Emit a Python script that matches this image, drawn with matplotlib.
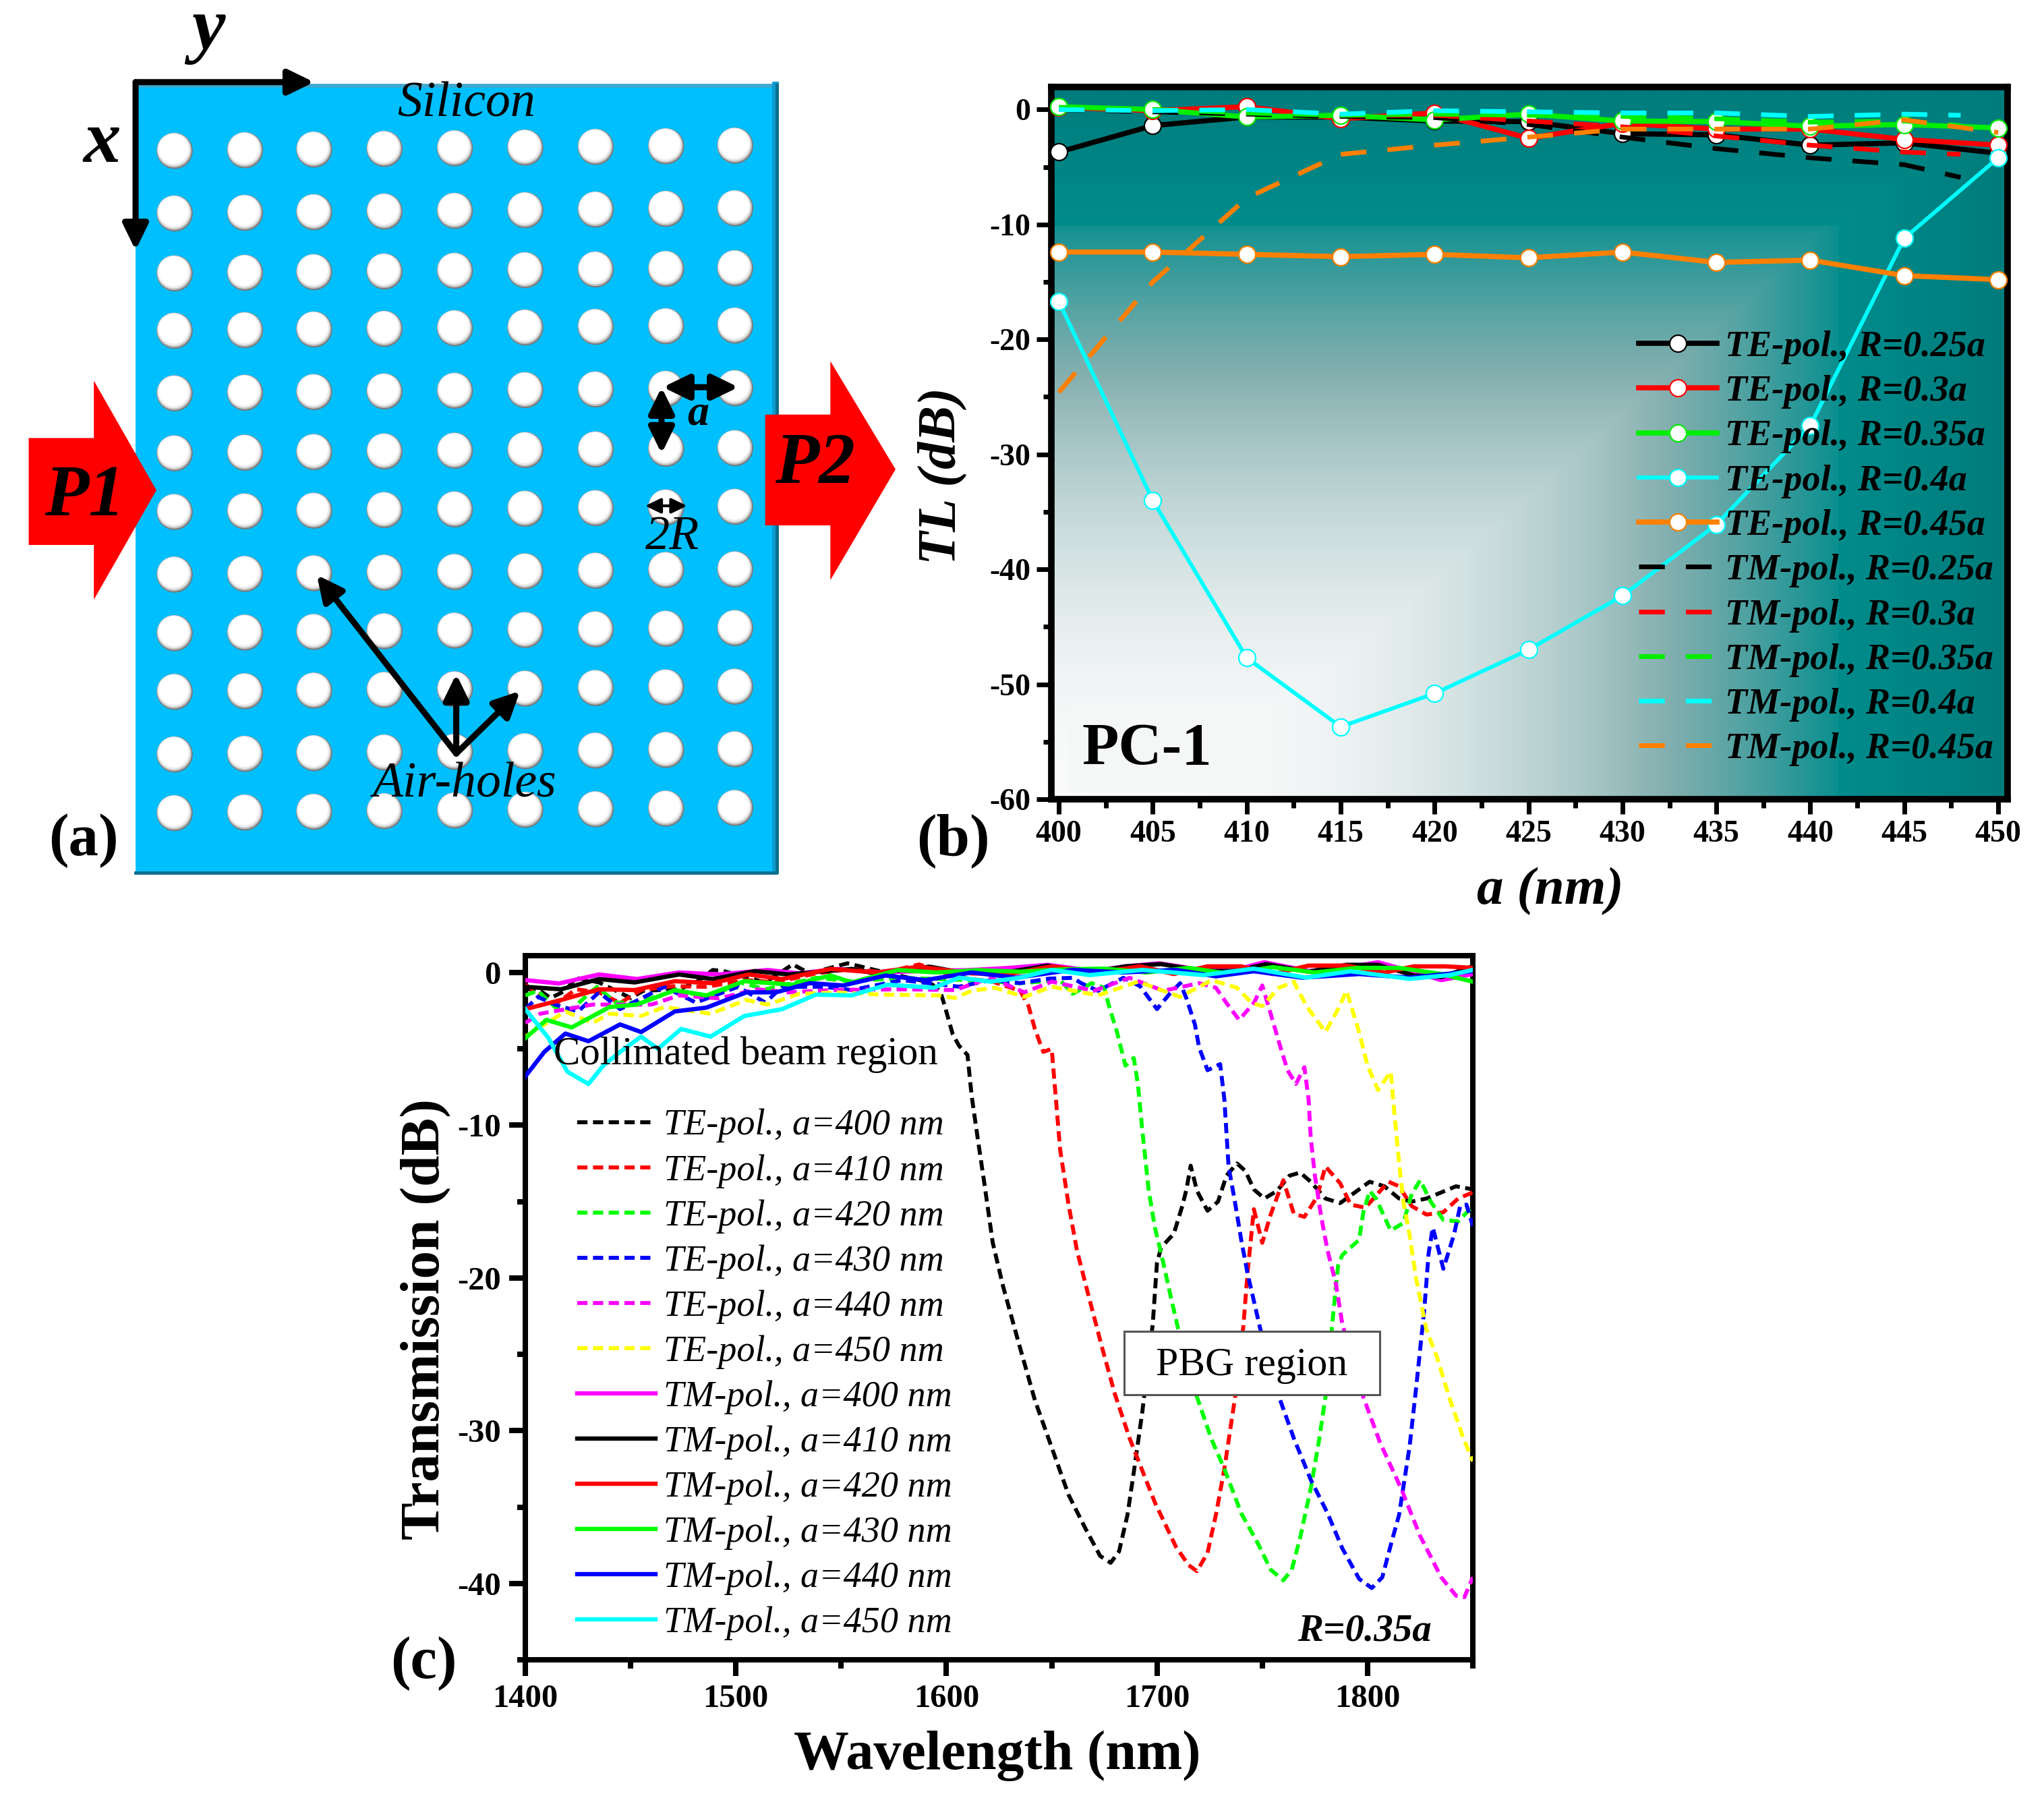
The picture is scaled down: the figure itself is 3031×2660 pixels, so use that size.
import numpy as np
import matplotlib
matplotlib.use("Agg")
import matplotlib.pyplot as plt
from matplotlib.colors import LinearSegmentedColormap
from matplotlib.font_manager import FontProperties
from matplotlib.patches import Polygon, Rectangle

W, H = 3031, 2660
S = 1.933
plt.rcParams['font.family'] = ['Liberation Serif', 'DejaVu Serif']

# ---------- panel (b) data ----------
a_nm = [400, 405, 410, 415, 420, 425, 430, 435, 440, 445, 450]
a_tm = [400, 405, 410, 415, 420, 425, 430, 435, 440, 445, 448]
te_025 = [-3.7, -1.4, -0.65, -0.65, -1.0, -1.05, -2.1, -2.2, -3.1, -2.9, -3.8]
te_030 = [0.2, -0.1, 0.25, -0.8, -0.3, -2.5, -1.2, -1.7, -1.7, -2.6, -3.1]
te_035 = [0.25, 0.0, -0.65, -0.5, -0.9, -0.4, -1.0, -1.05, -1.45, -1.3, -1.6]
te_040 = [-16.7, -34.0, -47.7, -53.7, -50.8, -47.0, -42.3, -36.1, -27.5, -11.2, -4.2]
te_045 = [-12.4, -12.4, -12.6, -12.8, -12.6, -12.9, -12.4, -13.3, -13.1, -14.45, -14.8]
tm_025 = [0.0, -0.2, -0.4, -0.6, -0.7, -1.3, -2.4, -3.4, -4.2, -4.8, -5.9]
tm_030 = [0.0, 0.0, -0.1, -0.5, -0.5, -1.0, -1.5, -2.3, -3.1, -3.7, -3.9]
tm_035 = [0.2, 0.0, -0.3, -0.5, -0.4, -0.5, -0.6, -0.8, -1.1, -1.0, -1.4]
tm_040 = [0.0, -0.1, 0.0, -0.4, -0.1, -0.2, -0.3, -0.3, -0.6, -0.4, -0.5]
tm_045 = [-24.6, -15.0, -7.7, -3.9, -3.1, -2.4, -1.7, -1.7, -1.7, -0.9, -2.0]
b_labels_te = ['TE-pol., R=0.25a', 'TE-pol., R=0.3a', 'TE-pol., R=0.35a', 'TE-pol., R=0.4a', 'TE-pol., R=0.45a']
b_labels_tm = ['TM-pol., R=0.25a', 'TM-pol., R=0.3a', 'TM-pol., R=0.35a', 'TM-pol., R=0.4a', 'TM-pol., R=0.45a']
b_colors = ['#000000', '#ff0000', '#00ee00', '#00ffff', '#ff8000']

# ---------- panel (c) data ----------
wl_te400 = [1400,1406,1412,1419,1424,1435,1450,1456,1473,1481,1489,1494,1514,1527,1535,1553,1571,1592,1597,1599,1603,1606,1610,1612,1615,1618,1622,1627,1634,1642,1650,1658,1666,1673,1678,1682,1686,1689,1693,1698,1700,1702,1708,1712,1714,1716,1719,1724,1729,1733,1738,1742,1746,1751,1757,1763,1768,1773,1780,1787,1794,1801,1808,1815,1821,1828,1835,1842,1850]
db_te400 = [-1.1,-1.1,-1.67,-1.2,-0.35,-0.65,-1.67,-1.2,-1.1,-0.65,0.16,0.1,-0.65,0.53,-0.06,0.6,0.0,-0.65,-1.2,-2.1,-4.05,-4.8,-5.4,-8.1,-11.0,-13.8,-17.7,-20.6,-24.1,-28.0,-31.1,-34.2,-36.4,-38.2,-38.65,-37.9,-35.5,-32.7,-28.8,-23.0,-19.0,-18.0,-17.1,-15.3,-14.2,-12.65,-14.3,-15.6,-15.0,-13.3,-12.5,-13.0,-14.2,-14.8,-14.3,-13.3,-13.1,-13.7,-14.8,-15.1,-14.4,-13.7,-14.0,-14.8,-15.0,-14.8,-14.4,-14.0,-14.2]
wl_te410 = [1400,1414,1424,1435,1445,1455,1470,1486,1505,1519,1538,1555,1571,1587,1605,1622,1635,1639,1642,1646,1650,1652,1654,1658,1662,1667,1674,1680,1687,1699,1709,1715,1719,1724,1728,1732,1737,1741,1743,1746,1750,1754,1760,1765,1770,1776,1780,1787,1792,1799,1806,1810,1815,1821,1828,1836,1843,1850]
db_te410 = [-0.8,-2.1,-1.1,-1.3,-2.0,-1.15,-0.9,-0.94,-0.5,-0.65,-0.06,0.23,0.0,0.53,-0.3,-0.6,-1.2,-2.2,-3.7,-5.2,-5.0,-8.3,-11.6,-15.2,-18.2,-20.9,-24.6,-27.6,-30.5,-34.7,-37.6,-38.8,-39.2,-38.0,-35.5,-32.5,-27.9,-23.2,-19.7,-15.5,-17.7,-15.85,-13.6,-15.8,-16.0,-14.7,-12.7,-13.8,-15.2,-15.4,-14.3,-13.7,-14.0,-15.3,-15.85,-15.7,-14.8,-14.4]
wl_te420 = [1400,1406,1414,1422,1434,1443,1453,1471,1488,1502,1514,1538,1555,1580,1610,1635,1654,1660,1669,1675,1677,1681,1685,1689,1691,1693,1696,1699,1702,1706,1710,1719,1726,1732,1740,1748,1754,1760,1764,1768,1773,1777,1780,1784,1786,1788,1796,1798,1801,1804,1811,1817,1821,1825,1830,1836,1843,1850]
db_te420 = [-1.5,-1.2,-2.26,-2.4,-0.94,-1.97,-1.97,-1.2,-1.6,-0.65,-1.1,-0.35,-0.57,-0.35,-0.5,-0.7,-0.5,-1.4,-0.7,-1.0,-2.1,-3.9,-6.1,-5.6,-7.4,-10.3,-14.2,-16.7,-18.4,-20.9,-23.3,-27.8,-30.6,-32.5,-35.4,-37.4,-39.1,-39.8,-39.1,-37.0,-33.8,-30.6,-27.8,-21.9,-19.2,-18.5,-17.5,-15.7,-14.3,-14.8,-16.9,-16.4,-14.5,-13.6,-15.0,-16.2,-16.3,-15.3]
wl_te430 = [1400,1406,1414,1425,1435,1445,1466,1481,1501,1514,1522,1542,1555,1579,1606,1621,1635,1649,1660,1664,1672,1684,1692,1700,1706,1711,1714,1718,1720,1724,1730,1732,1733,1734,1737,1740,1743,1749,1758,1765,1773,1781,1788,1796,1802,1807,1811,1815,1820,1823,1827,1829,1831,1836,1841,1844,1847,1850]
db_te430 = [-2.4,-1.6,-2.1,-2.55,-1.3,-2.4,-0.94,-1.97,-0.94,-1.97,-0.94,-0.94,-1.15,-0.5,-0.93,-0.5,-0.7,-0.4,-0.35,-0.7,-1.2,-0.35,-0.9,-2.4,-1.4,-0.7,-1.7,-3.4,-4.9,-6.4,-6.0,-8.3,-10.5,-12.7,-15.0,-17.5,-19.7,-23.3,-27.8,-30.5,-33.2,-35.4,-37.7,-39.7,-40.3,-39.6,-37.5,-35.5,-31.0,-27.3,-22.0,-18.4,-16.7,-19.4,-17.2,-15.3,-15.2,-16.6]
wl_te440 = [1400,1407,1432,1460,1473,1492,1510,1525,1546,1579,1604,1621,1637,1650,1670,1687,1703,1720,1728,1733,1739,1746,1750,1754,1758,1762,1766,1770,1772,1773,1775,1778,1781,1785,1788,1798,1806,1816,1825,1835,1842,1846,1850]
db_te440 = [-3.3,-2.7,-2.1,-2.1,-1.5,-1.7,-1.1,-1.3,-1.15,-1.1,-1.15,-0.35,-1.3,-0.6,-1.2,-0.35,-1.2,-0.7,-1.0,-2.0,-3.1,-2.0,-0.85,-2.7,-4.6,-6.4,-7.3,-6.2,-8.3,-10.8,-13.3,-16.0,-18.2,-20.4,-23.0,-27.8,-30.8,-33.8,-36.9,-39.6,-40.8,-40.9,-39.6]
wl_te450 = [1400,1419,1432,1440,1455,1466,1488,1505,1515,1530,1548,1569,1596,1604,1612,1623,1637,1650,1672,1691,1711,1726,1738,1745,1750,1758,1765,1771,1780,1786,1790,1796,1800,1805,1811,1813,1815,1817,1820,1823,1828,1833,1839,1845,1850]
db_te450 = [-4.2,-2.55,-3.3,-2.7,-2.85,-2.26,-2.7,-1.8,-2.1,-1.4,-1.3,-1.45,-1.5,-1.67,-1.2,-1.0,-1.6,-0.93,-1.5,-0.6,-1.6,-0.5,-1.0,-2.0,-2.2,-1.0,-0.6,-2.2,-3.9,-2.4,-1.2,-3.9,-6.1,-7.7,-6.5,-9.6,-12.5,-15.0,-17.2,-20.0,-23.4,-25.2,-27.9,-30.3,-32.0]

wl_tm400 = [1400,1416,1435,1453,1473,1492,1515,1530,1548,1567,1590,1610,1630,1648,1670,1685,1701,1722,1735,1751,1772,1787,1805,1820,1835,1850]
db_tm400 = [-0.5,-0.72,-0.13,-0.43,0.0,-0.13,0.16,-0.06,0.23,0.0,0.1,0.15,0.3,0.5,0.1,0.4,0.6,0.15,0.1,0.67,0.1,0.25,0.67,0.1,-0.5,-0.1]
wl_tm410 = [1400,1417,1435,1452,1473,1489,1509,1525,1555,1566,1592,1607,1630,1648,1668,1685,1702,1722,1737,1752,1772,1790,1805,1822,1835,1850]
db_tm410 = [-0.94,-1.1,-0.43,-0.65,-0.13,-0.43,0.09,-0.13,0.23,-0.06,0.38,0.0,0.05,0.45,0.0,0.4,0.55,0.1,0.1,0.55,0.05,0.5,0.5,-0.2,-0.3,0.4]
wl_tm420 = [1400,1417,1435,1452,1471,1489,1506,1522,1545,1567,1587,1612,1630,1650,1672,1692,1708,1724,1740,1755,1772,1790,1808,1822,1837,1850]
db_tm420 = [-2.4,-1.8,-1.1,-1.15,-0.57,-0.7,-0.13,-0.43,0.23,0.0,0.38,-0.06,-0.1,0.4,0.0,0.4,-0.1,0.4,0.4,-0.1,0.45,0.45,0.0,0.4,0.4,0.3]
wl_tm430 = [1400,1410,1422,1440,1453,1471,1486,1504,1527,1545,1555,1577,1595,1615,1635,1655,1675,1695,1715,1735,1755,1775,1795,1815,1835,1850]
db_tm430 = [-4.3,-3.1,-3.6,-2.26,-2.1,-1.16,-1.5,-0.57,-0.8,-0.2,-0.65,0.16,0.0,0.15,0.05,0.2,0.25,0.0,0.3,-0.1,0.35,0.0,0.3,0.3,-0.1,-0.6]
wl_tm440 = [1400,1409,1419,1430,1445,1455,1471,1486,1505,1519,1535,1551,1571,1590,1612,1633,1660,1684,1709,1728,1746,1769,1796,1820,1850]
db_tm440 = [-6.8,-5.2,-4.0,-4.5,-3.4,-3.9,-2.55,-2.3,-1.3,-1.3,-0.7,-0.85,-0.2,-0.5,0.0,-0.34,0.17,0.0,0.17,-0.25,0.08,-0.34,-0.1,-0.34,0.08]
wl_tm450 = [1400,1411,1420,1430,1437,1445,1455,1463,1474,1488,1504,1522,1538,1555,1572,1594,1606,1621,1635,1650,1668,1693,1722,1746,1771,1792,1820,1839,1850]
db_tm450 = [-2.4,-4.3,-6.5,-7.3,-6.1,-5.2,-4.2,-5.0,-3.7,-4.2,-2.85,-2.4,-1.45,-1.5,-0.8,-1.0,-0.34,-0.6,-0.34,0.17,-0.17,0.17,-0.17,0.25,-0.34,0.08,-0.42,-0.17,0.17]

c_te_labels = ['TE-pol., a=400 nm', 'TE-pol., a=410 nm', 'TE-pol., a=420 nm', 'TE-pol., a=430 nm', 'TE-pol., a=440 nm', 'TE-pol., a=450 nm']
c_tm_labels = ['TM-pol., a=400 nm', 'TM-pol., a=410 nm', 'TM-pol., a=420 nm', 'TM-pol., a=430 nm', 'TM-pol., a=440 nm', 'TM-pol., a=450 nm']
c_te_colors = ['#000000', '#ff0000', '#00ff00', '#0000ff', '#ff00ff', '#ffff00']
c_tm_colors = ['#ff00ff', '#000000', '#ff0000', '#00ff00', '#0000ff', '#00ffff']

# ---------- panel (a) schematic lattice ----------
hole_cols = [134, 188, 241, 295, 349, 403, 457, 511, 564]
hole_rows = [115.7, 163.7, 209.7, 253.7, 301.7, 347.7, 392.7, 440.7, 485.7, 530.7, 578.7, 623.7]
hole_tilt = [0, -0.5, -1, -1.5, -2, -2.5, -3, -3.5, -4]

fig = plt.figure(figsize=(W / 100, H / 100), dpi=100, facecolor='white')


def axes_px(l, t, r, b):
    return fig.add_axes([l / W, 1 - b / H, (r - l) / W, (b - t) / H])


def style(ax, lw, maj, mnr, tw):
    for s in ax.spines.values():
        s.set_linewidth(lw)
    ax.tick_params(which='major', direction='out', length=maj, width=tw, top=False, right=False)
    ax.tick_params(which='minor', direction='out', length=mnr, width=tw, top=False, right=False)


# ---------- overlay / panel (a) ----------
ov = fig.add_axes([0, 0, 1, 1], zorder=5)
ov.set_xlim(0, W)
ov.set_ylim(H, 0)
ov.axis('off')
ov.patch.set_alpha(0)

ov.add_patch(Rectangle((104 * S, 65 * S), 492 * S, 605 * S, fc='#00bfff', ec='none', zorder=1))
ov.plot([104 * S, 596 * S], [65.5 * S] * 2, color='#40a8d0', lw=4, zorder=1)
ov.plot([595 * S, 595 * S], [65 * S, 668 * S], color='#0c9ccc', lw=7, zorder=1)
ov.plot([596 * S, 596 * S, 104 * S], [65 * S, 669.5 * S, 669.5 * S], color='#0a6f90', lw=3.5, zorder=1)
hx, hy = [], []
for c, t in zip(hole_cols, hole_tilt):
    for r in hole_rows:
        hx.append(c * S)
        hy.append((r + t) * S)
hx, hy = np.array(hx), np.array(hy)
ov.scatter(hx, hy, s=38.5 ** 2, c='#7a7a7a', ec='none', zorder=2)
ov.scatter(hx - 0.7, hy - 1, s=37 ** 2, c='#bdbdbd', ec='none', zorder=2)
ov.scatter(hx - 1.2, hy - 2, s=35 ** 2, c='#ececec', ec='none', zorder=2)
ov.scatter(hx - 1.6, hy - 3, s=32 ** 2, c='#ffffff', ec='none', zorder=2)


def arrow(x0, y0, x1, y1, style_='-|>', lw=6.5, ms=33):
    ov.annotate('', xy=(x1 * S, y1 * S), xytext=(x0 * S, y0 * S), zorder=4,
                arrowprops=dict(arrowstyle=style_ + ',head_length=0.7,head_width=0.34', color='black', lw=lw,
                                mutation_scale=ms, shrinkA=0, shrinkB=0))


arrow(104, 63, 241, 63)
arrow(104, 63, 104, 192)
arrow(350, 578, 243, 441)
arrow(350, 578, 350, 517)
arrow(350, 578, 399, 530)
arrow(508.5, 297, 566.5, 297, '<|-|>')
arrow(507.5, 297, 507.5, 348, '<|-|>')
arrow(495, 388, 527, 388, '<|-|>', 3, 20)
ov.add_patch(Polygon(np.array([(22, 336), (72, 336), (72, 292), (120, 376), (72, 460), (72, 418), (22, 418)]) * S,
                     fc='#ff0000', ec='none', zorder=3))
ov.add_patch(Polygon(np.array([(587, 318), (637, 318), (637, 277), (687, 360), (637, 445), (637, 403), (587, 403)]) * S,
                     fc='#ff0000', ec='none', zorder=3))


def txt(x, y, s, size, weight='bold', style_='normal', **kw):
    ov.text(x * S, y * S, s, fontsize=size, fontweight=weight, fontstyle=style_, ha='center', va='center',
            zorder=6, **kw)


txt(160, 24, 'y', 80, style_='italic')
txt(78, 110, 'x', 80, style_='italic')
txt(358, 80, 'Silicon', 53, 'normal', 'italic')
txt(535.4, 318, 'a', 46, style_='italic')
txt(516, 412, '2R', 52, 'normal', 'italic')
txt(356, 602, 'Air-holes', 53, 'normal', 'italic')
txt(65, 382, 'P1', 77, style_='italic')
txt(625, 357, 'P2', 77, style_='italic')
txt(64, 645, '(a)', 64)
txt(731, 645, '(b)', 64)
txt(325, 1276, '(c)', 64)

# ---------- panel (b) ----------
axb = axes_px(1559, 129, 2977, 1185)
axb.set_xlim(399.6, 450.5)
axb.set_ylim(-60, 1.96)
style(axb, 7, 16, 9, 5)
gx, gy = np.meshgrid(np.linspace(399.6, 450.5, 600), np.linspace(-60, 1.96, 400))
tx = np.where(gx < 441.5, 0.96 * np.clip((gx - 405) / 36.5, 0, 1) ** 2.2, 1 + (gx - 441.5) / 9 * 0.1)
ty = np.where(gy < -10, 0.93 * np.clip((gy + 60) / 50, 0, 1) ** 2, 1 + (gy + 10) / 12 * 0.1)
t = np.maximum(tx, ty)
cmap = LinearSegmentedColormap.from_list('teal', [(0, '#f9fafa'), (0.5 / 1.1, '#86b0b0'), (1 / 1.1, '#008c8c'),
                                                  (1, '#007c7c')])
axb.imshow(t, extent=[399.6, 450.5, -60, 1.96], origin='lower', aspect='auto', cmap=cmap, vmin=0, vmax=1.1, zorder=0)
for y_, lab, col in zip([te_025, te_030, te_035, te_040, te_045], b_labels_te, b_colors):
    axb.plot(a_nm, y_, color=col, lw=4.2 if col == '#00ffff' else 5.5, marker='o', ms=18, mfc='white', mec=col, mew=1.6,
             label=lab, zorder=3, clip_on=False)
for i, (y_, lab, col) in enumerate(zip([tm_025, tm_030, tm_035, tm_040, tm_045], b_labels_tm, b_colors)):
    xs = a_nm if i == 4 else a_tm
    axb.plot(xs, y_, color=col, lw=5, ls=(0, (5.5, 4.5)), label=lab, zorder=4)
axb.set_xticks(a_nm)
axb.set_xticks(np.arange(402.5, 450, 5), minor=True)
axb.set_yticks([0, -10, -20, -30, -40, -50, -60])
axb.set_yticks(np.arange(-55, 0, 10), minor=True)
axb.set_yticklabels(['0', '-10', '-20', '-30', '-40', '-50', '-60'], fontweight='bold', fontsize=33)
axb.set_xticklabels([str(v) for v in a_nm], fontweight='bold', fontsize=33)
axb.tick_params(axis='both', which='major', pad=6)
axb.add_patch(Rectangle((400.5, -59.4), 11.1, 7.8, fc='#f5f7f7', ec='none', zorder=1))
axb.text(404.7, -55.7, 'PC-1', fontsize=64, fontweight='bold', ha='center', va='center', zorder=5)
lb = axb.legend(loc='upper left', bbox_to_anchor=(2430 / W, 1 - 490 / H), bbox_transform=fig.transFigure,
                frameon=False, borderpad=0, borderaxespad=0, handlelength=2.14, handletextpad=0.23, labelspacing=0.30,
                prop=FontProperties(family='Liberation Serif', style='italic', weight='bold', size=39))
lb.set_zorder(6)
txt(723, 365, 'TL (dB)', 58, style_='italic', rotation=90)
txt(1189, 684, 'a (nm)', 57, style_='italic')

# ---------- panel (c) ----------
axc = axes_px(779, 1417, 2184, 2461)
axc.set_xlim(1400, 1850)
axc.set_ylim(-45, 1.1)
style(axc, 5.8, 17, 9, 5.8)
te_sets = [(wl_te400, db_te400), (wl_te410, db_te410), (wl_te420, db_te420), (wl_te430, db_te430),
           (wl_te440, db_te440), (wl_te450, db_te450)]
tm_sets = [(wl_tm400, db_tm400), (wl_tm410, db_tm410), (wl_tm420, db_tm420), (wl_tm430, db_tm430),
           (wl_tm440, db_tm440), (wl_tm450, db_tm450)]
for (x_, y_), lab, col in zip(te_sets, c_te_labels, c_te_colors):
    axc.plot(x_, y_, color=col, lw=4.2, ls=(0, (2.6, 1.4)), label=lab, zorder=3)
for (x_, y_), lab, col in zip(tm_sets, c_tm_labels, c_tm_colors):
    axc.plot(x_, y_, color=col, lw=4.6, label=lab, zorder=4)
axc.set_xticks([1400, 1500, 1600, 1700, 1800])
axc.set_xticks([1450, 1550, 1650, 1750, 1850], minor=True)
axc.set_yticks([0, -10, -20, -30, -40])
axc.set_yticks([-5, -15, -25, -35, -45], minor=True)
axc.set_xticklabels(['1400', '1500', '1600', '1700', '1800'], fontweight='bold', fontsize=35)
axc.set_yticklabels(['0', '-10', '-20', '-30', '-40'], fontweight='bold', fontsize=35)
axc.tick_params(axis='both', which='major', pad=9)
lc = axc.legend(loc='upper left', bbox_to_anchor=(856 / W, 1 - 1644 / H), bbox_transform=fig.transFigure,
                frameon=False, borderpad=0, borderaxespad=0, handlelength=2.14, handletextpad=0.23, labelspacing=0.305,
                prop=FontProperties(family='Liberation Serif', style='italic', size=39))
lc.set_zorder(6)
ov.text(572 * S, 809 * S, 'Collimated beam region', fontsize=42.5, ha='center', va='center', zorder=6)
ov.text(960 * S, 1047.5 * S, 'PBG region', fontsize=43, ha='center', va='center', zorder=7)
ov.add_patch(Rectangle((862.5 * S, 1021 * S), 196 * S, 49 * S, fc='white', ec='#555555', lw=2.2, zorder=6))
ov.text(1047 * S, 1251 * S, 'R=0.35a', fontsize=41, fontweight='bold', fontstyle='italic', ha='center', va='center', zorder=6)
txt(327, 1012, 'Transmission (dB)', 60, rotation=90)
txt(765, 1347, 'Wavelength (nm)', 59)

fig.savefig('out.png', dpi=100)
